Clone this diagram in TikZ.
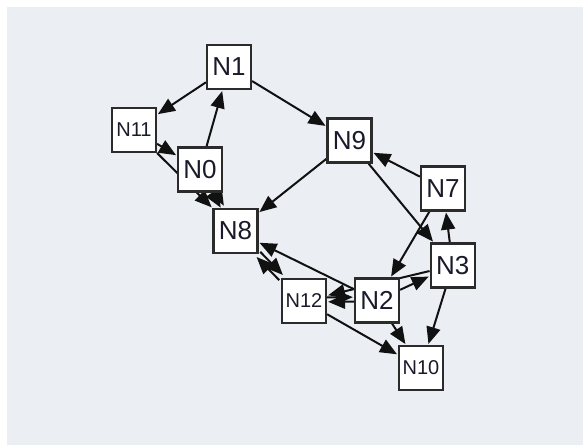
\documentclass[tikz,border=0pt]{standalone}
\usepackage{fontspec}
\setmainfont{Liberation Sans}
\usetikzlibrary{arrows.meta}
\definecolor{bgpanel}{HTML}{EBEEF3}
\definecolor{edgecol}{HTML}{111111}
\definecolor{boxline}{HTML}{2B2B2B}
\definecolor{txt}{HTML}{1A1A2A}
\pgfdeclarelayer{bglayer}
\pgfdeclarelayer{edgelayer}
\pgfsetlayers{bglayer,edgelayer,main}
\begin{document}
\begin{tikzpicture}[x=1pt,y=-1pt,
  nd/.style={draw=boxline, line width=2.2pt, fill=white, minimum width=44pt, minimum height=44pt, inner sep=0pt, text=txt},
  big/.style={font=\fontsize{26}{26}\selectfont},
  small/.style={font=\fontsize{20}{20}\selectfont},
  ed/.style={draw=edgecol, line width=2pt, shorten >=1pt, -{Triangle[length=17pt,width=14pt]}}]
\useasboundingbox (0,0) rectangle (583,445);
\begin{pgfonlayer}{bglayer}
  \fill[white] (0,0) rectangle (583,445);
  \fill[bgpanel] (7,7) rectangle (583,445);
\end{pgfonlayer}
\node[nd,big]   (n1)  at (229,67)    {N1};
\node[nd,small] (n11) at (134,130)   {N11};
\node[nd,big]   (n0)  at (200,169.5) {N0};
\node[nd,big]   (n9)  at (349.5,140.5) {N9};
\node[nd,big]   (n7)  at (443,188.5) {N7};
\node[nd,big]   (n8)  at (235.5,231) {N8};
\node[nd,big]   (n3)  at (452.7,265.5) {N3};
\node[nd,small] (n12) at (304,301)   {N12};
\node[nd,big]   (n2)  at (377,300.5) {N2};
\node[nd,small] (n10) at (421,368)   {N10};
\begin{pgfonlayer}{edgelayer}
  \draw[ed] (n1) -- (n11);
  \draw[ed] (n0) -- (n1);
  \draw[ed] (n1) -- (n9);
  \draw[ed] (n11) -- (n0);
  \draw[ed] (n11) -- (n8);
  \draw[ed,transform canvas={xshift=2.2pt,yshift=1.3pt}] (n0) -- (n8);
  \draw[ed,transform canvas={xshift=-1pt,yshift=-0.6pt}] (n0) -- (n8);
  \draw[ed] (n9) -- (n8);
  \draw[ed] (n7) -- (n9);
  \draw[ed] (n9) -- (n3);
  \draw[ed] (n3) -- (n7);
  \draw[ed] (n7) -- (n2);
  \draw[ed] (n2) -- (n8);
  \draw[ed,transform canvas={xshift=-2.2pt,yshift=-2.2pt}] (n12) -- (n8);
  \draw[ed,transform canvas={xshift=2.2pt,yshift=2.2pt}] (n8) -- (n12);
  \draw[ed,transform canvas={yshift=3.5pt}] (n12) -- (n2);
  \draw[ed,transform canvas={yshift=-1pt}] (n2) -- (n12);
  \draw[ed] (n3) -- (n12);
  \draw[ed] (n2) -- (n3);
  \draw[ed] (n3) -- (n10);
  \draw[ed] (n2) -- (n10);
  \draw[ed] (n12) -- (n10);
\end{pgfonlayer}
\end{tikzpicture}
\end{document}
